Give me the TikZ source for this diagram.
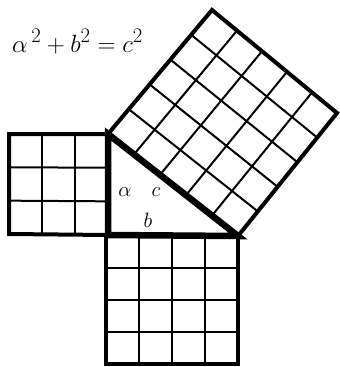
\documentclass[tikz,border=0pt]{standalone}
\usepackage{fontspec}
\usetikzlibrary{calc}
\begin{document}
\begin{tikzpicture}[x=1pt,y=-1pt,
  outer/.style={line width=4pt, line join=miter},
  gridline/.style={line width=2pt},
  tri/.style={line width=6.5pt, line join=miter},
  lbl/.style={font=\fontsize{20.74}{24}\selectfont, inner sep=0pt},
  eqlbl/.style={font=\fontsize{24.88}{28}\selectfont, inner sep=0pt}]
\useasboundingbox (0,0) rectangle (340,367);
% triangle vertices
\coordinate (A) at (108,134);
\coordinate (C) at (108,235);
\coordinate (B) at (238,236);
% big square
\coordinate (T) at (212,10);
\coordinate (R) at (337,113);
% left square
\coordinate (L1) at (9,134);
\coordinate (L2) at (9,234);
% bottom square
\coordinate (P1) at (106,236);
\coordinate (D1) at (106,364);
\coordinate (D2) at (238,364);
% left square grid
\foreach \i in {1,2}{
  \draw[gridline] ($(L1)!\i/3!(A)$) -- ($(L2)!\i/3!(C)$);
  \draw[gridline] ($(L1)!\i/3!(L2)$) -- ($(A)!\i/3!(C)$);
}
\draw[outer] (L1) -- (A) -- (C) -- (L2) -- cycle;
% bottom square grid
\foreach \i in {1,2,3}{
  \draw[gridline] ($(P1)!\i/4!(B)$) -- ($(D1)!\i/4!(D2)$);
  \draw[gridline] ($(P1)!\i/4!(D1)$) -- ($(B)!\i/4!(D2)$);
}
\draw[outer] (P1) -- (B) -- (D2) -- (D1) -- cycle;
% big square grid
\foreach \i in {1,2,3,4}{
  \draw[gridline] ($(A)!\i/5!(T)$) -- ($(B)!\i/5!(R)$);
  \draw[gridline] ($(A)!\i/5!(B)$) -- ($(T)!\i/5!(R)$);
}
\draw[outer] (A) -- (T) -- (R) -- (B) -- cycle;
% triangle
\draw[tri] (A) -- (C) -- (B) -- cycle;
% labels
\node[eqlbl, anchor=base west] (eq) at (12,52) {$\alpha^{\,2} + b^2 = c^2$};
\node[lbl] (la) at (125,192) {$\alpha$};
\node[lbl] (lc) at (156,192) {$c$};
\node[lbl] (lb) at (148,220) {$b$};
\end{tikzpicture}
\end{document}
